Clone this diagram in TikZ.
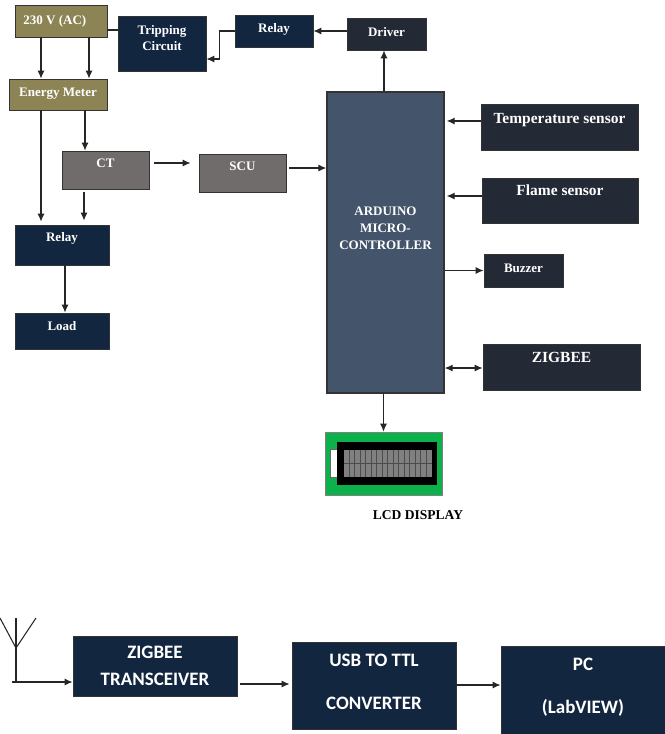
\documentclass[tikz,border=0pt]{standalone}
\usepackage{fontspec}
\setmainfont{Liberation Serif}
\newfontfamily\lowerfont{Carlito}
\usetikzlibrary{arrows.meta,calc,positioning,shapes}
\definecolor{navy}{HTML}{12263F}
\definecolor{olive}{HTML}{8C8454}
\definecolor{stone}{HTML}{706C6B}
\definecolor{slate}{HTML}{44546A}
\definecolor{ink}{HTML}{232A36}
\definecolor{pcbgreen}{HTML}{0DB14B}

\begin{document}
\begin{tikzpicture}[x=.02cm,y=-.02cm,>={Latex[length=1.6mm,width=1.4mm]},
  sized/.style args={#1 and #2}{minimum width=#1*.02cm,minimum height=#2*.02cm},
  lift/.style={text depth=#1*.569pt},
  blockbox/.style={draw=black!80,line width=.5pt,inner sep=0pt,text=white,align=center,font=\fontsize{7.4}{8.6}\selectfont\bfseries},
  navybox/.style={blockbox,fill=navy},
  olivebox/.style={blockbox,fill=olive},
  stonebox/.style={blockbox,fill=stone},
  inkbox/.style={blockbox,fill=ink,font=\fontsize{8.8}{10}\selectfont\bfseries},
  pcbox/.style={blockbox,fill=navy,font=\lowerfont\fontsize{10.8}{13}\selectfont\bfseries},
  wire/.style={draw=black!85,line width=.6pt}]
\useasboundingbox (0,0) rectangle (665,734);
\node[olivebox,sized=92 and 32] (ac) at (61,21) {230 V (AC)\hspace{7pt}};
\node[navybox,sized=88 and 55,lift=11] (trip) at (162,43.5) {Tripping\\Circuit};
\node[navybox,sized=78 and 32,lift=6] (relaya) at (274,31) {Relay};
\node[inkbox,sized=79 and 32,lift=4,font=\fontsize{7.4}{8.6}\selectfont\bfseries] (driver) at (386.5,34) {Driver};
\node[olivebox,sized=98 and 31,lift=5] (meter) at (58,94.5) {Energy Meter};
\node[stonebox,sized=87 and 38,lift=14] (ct) at (105.5,170) {CT};
\node[stonebox,sized=87 and 38,lift=14] (scu) at (242.5,173) {SCU};
\node[navybox,sized=94 and 40,lift=16] (relayb) at (62,245) {Relay};
\node[navybox,sized=94 and 36,lift=10] (load) at (62,331) {Load};
\node[blockbox,fill=slate,sized=117 and 301,lift=28,line width=.8pt] (ard) at (385.5,242.5) {ARDUINO\\[1pt]MICRO-\\[1pt]CONTROLLER};
\node[inkbox,sized=157 and 46,lift=18] (temp) at (559.5,127) {Temperature sensor};
\node[inkbox,sized=156 and 45,lift=20] (flame) at (560,200.5) {Flame sensor};
\node[inkbox,sized=79 and 33,lift=4,font=\fontsize{7.4}{8.6}\selectfont\bfseries] (buzzer) at (523.5,270.5) {Buzzer};
\node[inkbox,sized=157 and 46,lift=20] (zigbee) at (561.5,367) {ZIGBEE};
\node[draw=black!50,fill=pcbgreen,sized=117 and 63] (lcd) at (383.5,463.5) {};
\node[fill=white,draw=black!60,inner sep=0pt,sized=8 and 28] (lamp) at (334,463) {};
\node[fill=black,inner sep=0pt,sized=100 and 43] (bezel) at (387,463.5) {};
\node[fill=black!50,inner sep=0pt,sized=88 and 27] (glass) at (388,463.5) {};
\foreach \i in {1,...,15}
  \draw[black!70,line width=.3pt] ($(glass.north west)+(\i*5.5,0)$) -- ($(glass.south west)+(\i*5.5,0)$);
\draw[black!70,line width=.6pt] (glass.west) -- (glass.east);
\node[font=\fontsize{7.7}{9}\selectfont\bfseries] (lcdname) at (418,515) {LCD DISPLAY};
\node[pcbox,sized=164 and 60,lift=-6] (trans) at (155,666) {ZIGBEE\\[2.4pt]TRANSCEIVER};
\node[pcbox,sized=164 and 87,lift=8] (usb) at (374,685.5) {USB TO TTL\\[11.5pt]CONVERTER};
\node[pcbox,sized=164 and 88,lift=8] (pc) at (583,690) {PC\\[11.5pt](LabVIEW)};
\coordinate (tip) at (16,648);
\coordinate (armleft) at (0,618);
\coordinate (armright) at (36,618);
\coordinate (armtop) at (16,618);
\coordinate (foot) at (16,682);
\coordinate (footend) at (12,682);
\draw[wire] (armleft) -- (tip) -- (armright);
\draw[wire] (armtop) -- (foot);
\draw[wire,->] (footend) -- (trans.west |- footend);
\draw[wire] (ac.east |- 0,30) -- (trip.west |- 0,30);
\draw[wire,->] (relaya.west) -- ++(-15,0) |- (trip.east |- 0,59);
\draw[wire,->] (driver.west |- relaya.east) -- (relaya.east);
\draw[wire,->] (ard.north -| 384,0) -- (driver.south -| 384,0);
\draw[wire,->] (ac.south -| 41,0) -- (meter.north -| 41,0);
\draw[wire,->] (ac.south -| 89,0) -- (meter.north -| 89,0);
\draw[wire,->,shorten >=3*.02cm] (meter.south -| 41,0) -- (relayb.north -| 41,0);
\draw[wire,->] (meter.south -| 85,0) -- (ct.north -| 85,0);
\draw[wire,->,shorten <=3*.02cm,shorten >=4*.02cm] (ct.south -| 84,0) -- (relayb.north -| 84,0);
\draw[wire,->,shorten <=5*.02cm,shorten >=8*.02cm] (ct.east |- 0,163) -- (scu.west |- 0,163);
\draw[wire,->,shorten <=3*.02cm] (scu.east |- 0,168) -- (ard.west |- 0,168);
\draw[wire,->] (relayb.south -| 65,0) -- (load.north -| 65,0);
\draw[wire,->,shorten >=2*.02cm] (temp.west |- 0,121) -- (ard.east |- 0,121);
\draw[wire,->,shorten >=2*.02cm] (flame.west |- 0,196) -- (ard.east |- 0,196);
\draw[wire,->] (ard.east |- buzzer.west) -- (buzzer.west);
\draw[wire,<->] (ard.east |- 0,368) -- (zigbee.west |- 0,368);
\draw[wire,->] (ard.south -| lcd.north) -- (lcd.north);
\draw[wire,->,shorten <=3*.02cm,shorten >=2*.02cm] (trans.east |- 0,684) -- (usb.west |- 0,684);
\draw[wire,->] (usb.east |- 0,685) -- (pc.west |- 0,685);
\end{tikzpicture}
\end{document}
